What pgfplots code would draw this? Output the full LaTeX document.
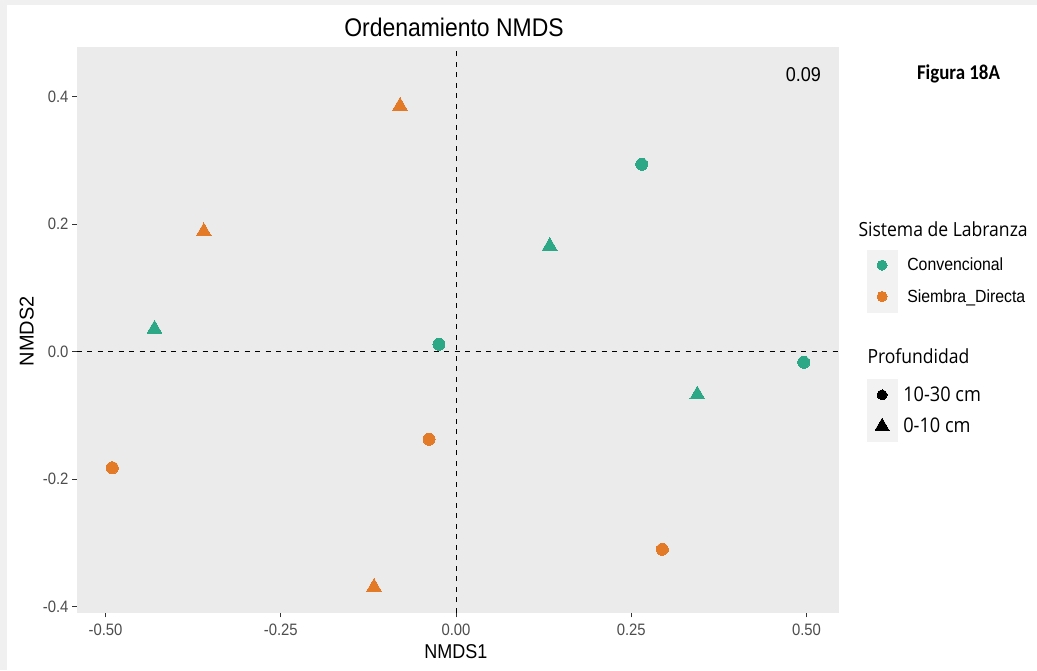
\documentclass[border=0pt]{standalone}
\usepackage{fontspec}
\setmainfont{Liberation Sans}[FakeStretch=0.9]
\newfontfamily\plainsans{Liberation Sans}
\newfontfamily\legtitle{Open Sans}[FakeStretch=0.9]
\newfontfamily\figfont{Carlito}[FakeStretch=0.9]
\usepackage{pgfplots}
\pgfplotsset{compat=1.18}
\definecolor{conv}{RGB}{44,168,134}
\definecolor{sd}{RGB}{226,122,40}
\definecolor{panel}{RGB}{235,235,235}
\definecolor{keybg}{RGB}{242,242,242}
\definecolor{ticklab}{RGB}{77,77,77}
\pgfplotsset{
  keymark/.style n args={3}{legend image code/.code={
    \fill[keybg] (0pt,-15.45pt) rectangle (30pt,15.45pt);
    \draw[color=#1, mark=#2, mark size=#3, line width=0pt] plot coordinates {(15pt,0pt)};
  }},
}
\begin{document}
\begin{tikzpicture}[x=1pt,y=1pt]
\useasboundingbox (0,0) rectangle (1037,670);
\fill[white] (0,0) rectangle (1037,670);
\fill[black!6] (0,0) rectangle (7,670);
\fill[black!6] (0,665) rectangle (1037,670);

\begin{axis}[
  at={(76.7pt,57.3pt)}, anchor=south west,
  scale only axis, width=761.8pt, height=565.4pt,
  xmin=-0.5411, xmax=0.5456, ymin=-0.4094, ymax=0.4775,
  axis background/.style={fill=panel},
  axis line style={draw=none},
  tick align=outside, tick pos=left,
  major tick length=4.7pt,
  tick style={color=black!80, line width=0.9pt},
  xtick={-0.5,-0.25,0,0.25,0.5},
  xticklabels={-0.50,-0.25,0.00,0.25,0.50},
  ytick={-0.4,-0.2,0,0.2,0.4},
  yticklabels={-0.4,-0.2,0.0,0.2,0.4},
  ticklabel style={font=\fontsize{16.5}{18}\selectfont, text=ticklab},
  xticklabel style={yshift=-3pt},
  legend style={at={(1.0370,0.6427)}, anchor=north west, draw=none, fill=none,
    inner sep=0pt, row sep=0pt, /tikz/column sep=10pt,
    nodes={inner sep=0pt}, font=\fontsize{17.6}{19}\selectfont},
  legend cell align=left,
]
\addplot[black, line width=1pt, dash pattern=on 5pt off 5.5pt, forget plot] coordinates {(0,-0.4094) (0,0.4775)};
\addplot[black, line width=1pt, dash pattern=on 5pt off 5.5pt, forget plot] coordinates {(-0.5411,0) (0.5456,0)};
% Convencional, 10-30 cm
\addplot[only marks, color=conv, mark=*, mark size=6pt, line width=0pt, forget plot] coordinates {
  (0.2649,0.2940) (-0.0243,0.0116) (0.4960,-0.0166)};
% Convencional, 0-10 cm
\addplot[only marks, color=conv, mark=triangle*, mark size=8.5pt, line width=0pt, forget plot] coordinates {
  (0.1337,0.1658) (-0.4301,0.0358) (0.3442,-0.0673)};
% Siembra_Directa, 10-30 cm
\addplot[only marks, color=sd, mark=*, mark size=6pt, line width=0pt, forget plot] coordinates {
  (-0.4903,-0.1820) (-0.0385,-0.1374) (0.2943,-0.3100)};
% Siembra_Directa, 0-10 cm
\addplot[only marks, color=sd, mark=triangle*, mark size=8.5pt, line width=0pt, forget plot] coordinates {
  (-0.0799,0.3854) (-0.3598,0.1887) (-0.1170,-0.3691)};
\addlegendimage{keymark={conv}{*}{5pt}}
\addlegendentry{Convencional}
\addlegendimage{keymark={sd}{*}{5pt}}
\addlegendentry{Siembra\_Directa}
\end{axis}

\begin{axis}[
  at={(76.7pt,57.3pt)}, anchor=south west,
  scale only axis, width=761.8pt, height=565.4pt,
  xmin=0, xmax=1, ymin=0, ymax=1, hide axis,
  legend style={at={(1.0370,0.4133)}, anchor=north west, draw=none, fill=none,
    inner sep=0pt, row sep=0pt, /tikz/column sep=6pt,
    nodes={inner sep=0pt}, font=\legtitle\fontsize{20.2}{22}\selectfont},
  legend cell align=left,
]
\addlegendimage{keymark={black}{*}{5pt}}
\addlegendentry{10-30 cm}
\addlegendimage{keymark={black}{triangle*}{8pt}}
\addlegendentry{0-10 cm}
\end{axis}

\node[font=\fontsize{25.5}{28}\selectfont] at (454,643) {Ordenamiento NMDS};
\node[font=\fontsize{20}{22}\selectfont, anchor=east, inner sep=0pt] at (821,595) {0.09};
\node[font=\figfont\bfseries\fontsize{21}{23}\selectfont] at (958.5,596) {Figura 18A};
\node[font=\fontsize{20}{22}\selectfont] at (456,18.3) {NMDS1};
\node[font=\plainsans\fontsize{20}{22}\selectfont, rotate=90] at (26.8,338.7) {NMDS2};
\node[font=\legtitle\fontsize{19.5}{21}\selectfont, anchor=base west, inner sep=0pt] at (858.3,433.3) {Sistema de Labranza};
\node[font=\legtitle\fontsize{19.5}{21}\selectfont, anchor=base west, inner sep=0pt] at (867.3,306) {Profundidad};
\end{tikzpicture}
\end{document}
